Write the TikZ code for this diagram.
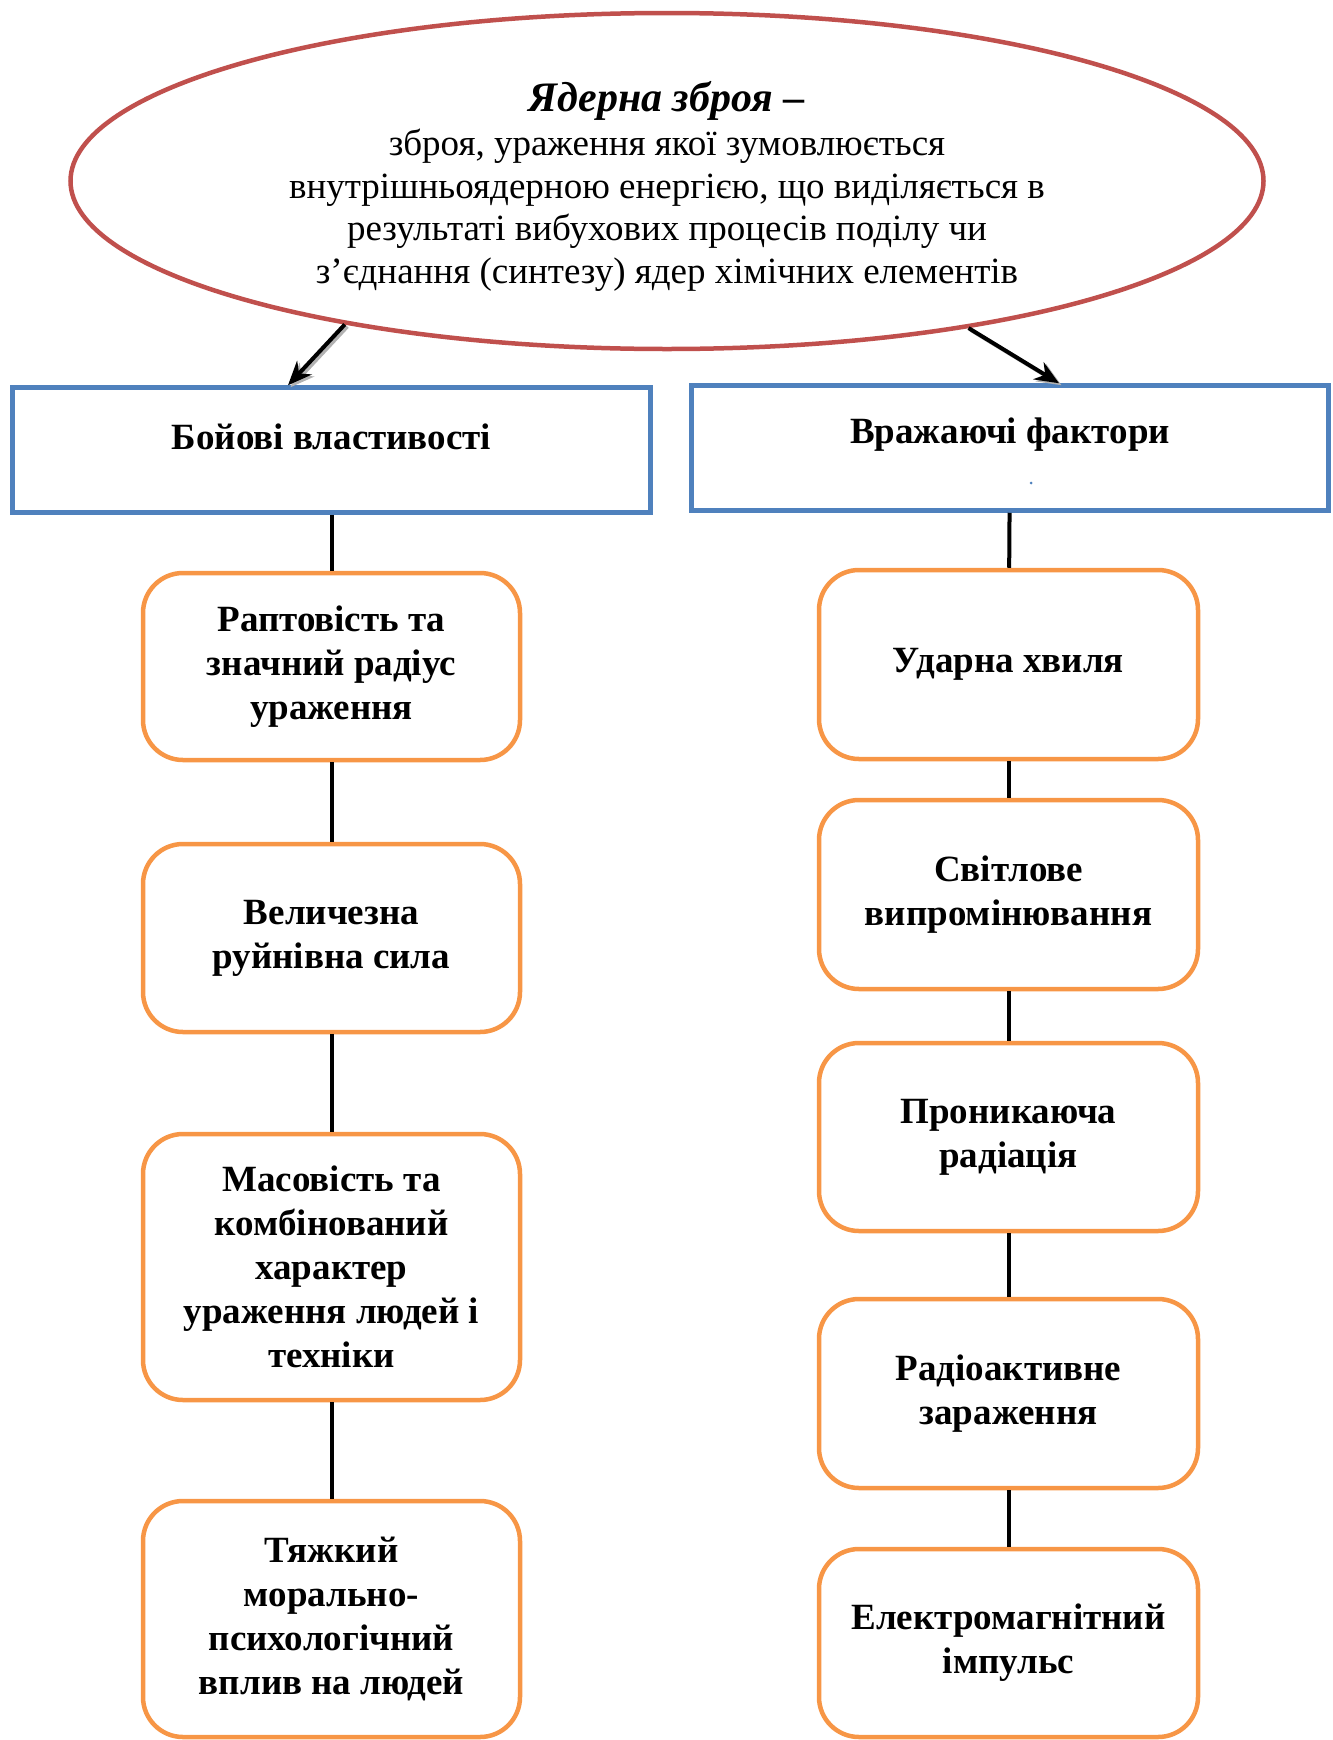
\documentclass[tikz,border=0pt]{standalone}
\usepackage{fontspec}
\setmainfont{Liberation Serif}
\usetikzlibrary{shapes.geometric, arrows.meta}

\definecolor{ovalred}{HTML}{C0504D}
\definecolor{headblue}{HTML}{4F81BD}
\definecolor{itemorange}{HTML}{F79646}

\begin{document}
\begin{tikzpicture}[x=1pt, y=-1pt, >={Stealth[length=24pt, width=20pt]},
  font=\fontsize{37}{44}\selectfont,
  oval/.style={ellipse, draw=ovalred, line width=4.5pt, inner sep=0pt,
    minimum width=1193pt, minimum height=336pt, align=center,
    font=\fontsize{37}{42.6}\selectfont},
  head/.style={rectangle, draw=headblue, line width=4.5pt,
    minimum width=638pt, minimum height=125pt},
  item/.style={rectangle, rounded corners=40pt, draw=itemorange, line width=4.5pt,
    minimum width=377pt, align=center, font=\fontsize{37}{44}\selectfont\bfseries},
  arr/.style={->, line width=4pt, preaction={draw=gray!60, line width=4pt,
    transform canvas={shift={(2.5pt,-2pt)}}}},
  conn/.style={line width=4pt}]

\useasboundingbox (0,0) rectangle (1333,1740);

% Definition
\node[oval] (def) at (667,181) {{\fontsize{42}{42.6}\selectfont\rule{0pt}{41pt}\textbf{\textit{Ядерна зброя} –}}\\[1pt]
  зброя, ураження якої зумовлюється\\
  внутрішньоядерною енергією, що виділяється в\\
  результаті вибухових процесів поділу чи\\
  з’єднання (синтезу) ядер хімічних елементів};

% Headers
\node[head] (props) at (331.5,450) {};
\node[font=\fontsize{37}{44}\selectfont\bfseries] (propstext) at ([yshift=13pt]props.center) {Бойові властивості};
\node[head, minimum width=637pt] (factors) at (1010,448) {};
\node[font=\fontsize{37}{44}\selectfont\bfseries] (factorstext) at ([yshift=13pt]factors.center) {Вражаючі фактори};
\fill[headblue] (1031,483) circle (1.5pt);

% Arrows
\draw[arr] (def.204.6) -- ([xshift=-43.5pt]props.north);
\draw[arr] (def.334.6) -- ([xshift=49pt]factors.north);

% Combat properties
\node[item, minimum height=187pt] (p1) at (331.5,666.5) {Раптовість та\\ значний радіус\\ ураження};
\node[item, minimum height=188pt] (p2) at (331.5,938) {Величезна\\ руйнівна сила};
\node[item, minimum height=266pt] (p3) at (331.5,1267) {Масовість та\\ комбінований\\ характер\\ ураження людей і\\ техніки};
\node[item, minimum height=236pt] (p4) at (331.5,1619) {Тяжкий\\ морально-\\ психологічний\\ вплив на людей};

% Damaging factors
\node[item, minimum width=379pt, minimum height=189pt] (f1) at (1008.5,664.5) {Ударна хвиля};
\node[item, minimum width=379pt, minimum height=189pt] (f2) at (1008.5,894.5) {Світлове\\ випромінювання};
\node[item, minimum width=379pt, minimum height=188pt] (f3) at (1008.5,1137) {Проникаюча\\ радіація};
\node[item, minimum width=379pt, minimum height=189pt] (f4) at (1008.5,1393.5) {Радіоактивне\\ зараження};
\node[item, minimum width=379pt, minimum height=188pt] (f5) at (1008.5,1643) {Електромагнітний\\ імпульс};

% Connectors
\draw[conn] (props) -- (p1);
\draw[conn] (p1) -- (p2);
\draw[conn] (p2) -- (p3);
\draw[conn] (p3) -- (p4);
\draw[conn] (factors) -- (f1);
\draw[conn] (f1) -- (f2);
\draw[conn] (f2) -- (f3);
\draw[conn] (f3) -- (f4);
\draw[conn] (f4) -- (f5);

\end{tikzpicture}
\end{document}
